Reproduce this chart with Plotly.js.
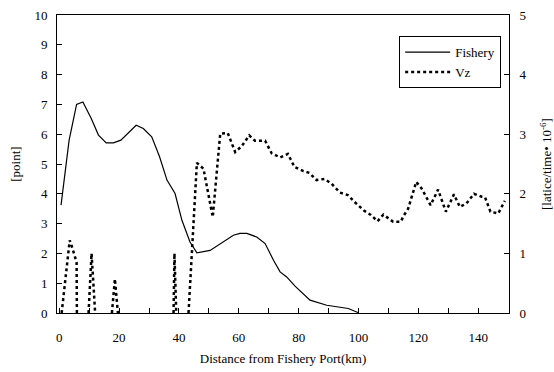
<!DOCTYPE html>
<html>
<head>
<meta charset="utf-8">
<script src="https://cdn.plot.ly/plotly-3.0.1.min.js"></script>
<style>html,body{margin:0;padding:0;background:#fff;}#chart{width:554px;height:372px;}</style>
</head>
<body>
<div id="chart"></div>
<script>
// Fishery [point] (left axis)
const fisheryX = [0.6, 3.3, 5.8, 7.9, 10.7, 13.1, 15.7, 18.1, 20.6, 23.1, 25.7, 28.1, 30.9, 33.5, 36, 38.7, 41, 43.7, 46, 50.4, 53.8, 58.2, 60.4, 62.7, 66, 68.8, 71.6, 73.8, 76, 78.8, 83.8, 89.4, 96.6, 100];
const fisheryY = [3.62, 5.8, 7.0, 7.08, 6.53, 5.97, 5.71, 5.71, 5.8, 6.03, 6.3, 6.19, 5.91, 5.25, 4.46, 4.01, 3.11, 2.38, 2.02, 2.1, 2.33, 2.61, 2.67, 2.67, 2.55, 2.33, 1.77, 1.38, 1.21, 0.9, 0.43, 0.26, 0.15, 0.01];

// Vz [latice/time 10^-6] (right axis); null = stretch lying on zero (hidden by the axis)
const vzX = [0.8, 3.5, 4.2, 5.8, 5.9, null, 9.8, 10.8, 12.0, null, 17.6, 18.6, 19.6, null, 38.2, 38.5, 39.1, null, 43.2, 46, 48.2, 51.3, 53.8, 56.3, 58.8, 61, 63.5, 65.4, 68.8, 71, 73.8, 76.4, 78.6, 81.6, 83.6, 86, 88.6, 91, 93.8, 96.4, 99, 101.8, 104, 106.4, 108.3, 111.6, 114.1, 115.2, 116.6, 118.1, 119.3, 121.1, 122.8, 124.1, 126.6, 128.3, 129.2, 131.9, 133.9, 136.1, 138.6, 141.2, 142.3, 144.1, 146.7, 148.9];
const vzY = [0, 1.22, 1.12, 0.85, 0, null, 0, 1.0, 0, null, 0, 0.57, 0, null, 0, 1.0, 0, null, 0, 2.52, 2.42, 1.61, 3.01, 3.02, 2.70, 2.8, 2.98, 2.89, 2.89, 2.68, 2.61, 2.67, 2.45, 2.38, 2.35, 2.23, 2.25, 2.17, 2.02, 1.98, 1.85, 1.72, 1.65, 1.54, 1.65, 1.53, 1.53, 1.64, 1.75, 1.99, 2.2, 2.09, 1.92, 1.81, 2.07, 1.84, 1.7, 1.99, 1.78, 1.84, 2.0, 1.95, 1.94, 1.7, 1.67, 1.88];

const leftTicks = [0,1,2,3,4,5,6,7,8,9,10];
const rightTicks = [0,1,2,3,4,5];
const xTicks = [0,20,40,60,80,100,120,140];

const font = {family: 'Liberation Serif, Times New Roman, serif', size: 13, color: '#000'};

const traces = [
  {x: fisheryX, y: fisheryY, name: 'Fishery', type: 'scatter', mode: 'lines',
   line: {color: '#000', width: 1.2}, yaxis: 'y'},
  {x: vzX, y: vzY, name: 'Vz', type: 'scatter', mode: 'lines', connectgaps: false,
   line: {color: '#000', width: 2.5, dash: '3px,3px'}, yaxis: 'y2'}
];

const layout = {
  width: 554, height: 372,
  margin: {l: 57, r: 45, t: 15, b: 59},
  paper_bgcolor: '#fff', plot_bgcolor: '#fff',
  font: font,
  showlegend: true,
  legend: {x: 0.757, y: 0.929, xanchor: 'left', yanchor: 'top',
           bgcolor: '#fff', bordercolor: '#000', borderwidth: 1,
           font: font, itemwidth: 45, tracegroupgap: 0},
  xaxis: {range: [-0.75, 150.3], tickvals: xTicks, ticktext: xTicks.map(String),
          ticks: 'inside', ticklen: 5, tickcolor: '#000',
          minor: {dtick: 10, tick0: 0, ticks: 'inside', ticklen: 5, tickcolor: '#000'},
          showgrid: false, zeroline: false, showline: true, linecolor: '#000', linewidth: 1,
          mirror: true, ticklabelstandoff: 12,
          title: {text: 'Distance from Fishery Port(km)', font: font, standoff: 10}},
  yaxis: {range: [0, 10], tickvals: leftTicks, ticktext: leftTicks.map(String),
          ticks: 'inside', ticklen: 5, tickcolor: '#000',
          showgrid: false, zeroline: false, showline: true, linecolor: '#000', linewidth: 1,
          ticklabelstandoff: 6,
          title: {text: '[point]', font: font, standoff: 10}},
  yaxis2: {range: [0, 5], tickvals: rightTicks, ticktext: rightTicks.map(String),
           overlaying: 'y', side: 'right',
           ticks: 'inside', ticklen: 5, tickcolor: '#000',
           showgrid: false, zeroline: false, showline: true, linecolor: '#000', linewidth: 1,
           ticklabelstandoff: 7,
           title: {text: '[latice/time• 10<sup>-6</sup>]', font: font, standoff: 17}}
};

Plotly.newPlot('chart', traces, layout, {displayModeBar: false, staticPlot: true});
</script>
</body>
</html>
